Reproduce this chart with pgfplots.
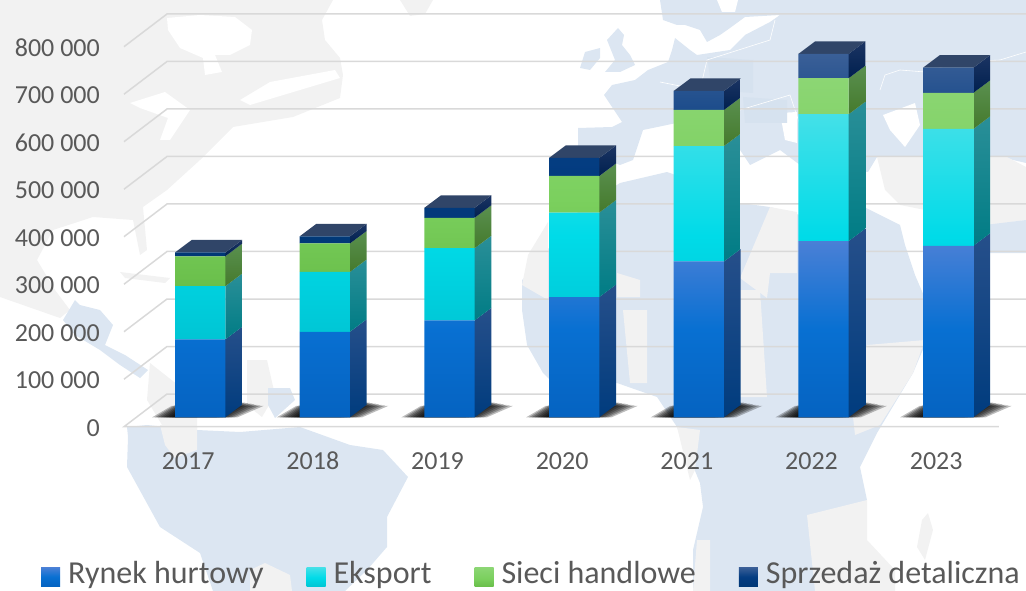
\documentclass[border=0pt]{standalone}
\usepackage{fontspec}
\setmainfont{Carlito}
\usepackage{pgfplots}
\usepackage{pgfplotstable}
\pgfplotsset{compat=1.18}
\definecolor{mapb}{HTML}{DCE6F2}
\definecolor{mapd}{HTML}{D6E2EF}
\definecolor{mapg}{HTML}{F2F2F2}
\definecolor{txt}{HTML}{595959}
\definecolor{gridc}{HTML}{D9D9D9}
\definecolor{topf}{HTML}{304568}
% front colours
\definecolor{b1}{HTML}{4A80D6}\definecolor{b2}{HTML}{0870D2}\definecolor{b3}{HTML}{0563C1}
\definecolor{c1}{HTML}{44E0E8}\definecolor{c2}{HTML}{00DBE8}\definecolor{c3}{HTML}{00C5D4}
\definecolor{g1}{HTML}{8CD674}\definecolor{g2}{HTML}{7BD05E}\definecolor{g3}{HTML}{6ABF4B}
\definecolor{n1}{HTML}{3A5F97}\definecolor{n2}{HTML}{043D82}\definecolor{n3}{HTML}{003876}
% side colours
\definecolor{bs1}{HTML}{264F8A}\definecolor{bs2}{HTML}{003C7E}
\definecolor{cs1}{HTML}{2A8F98}\definecolor{cs2}{HTML}{007C85}
\definecolor{gs1}{HTML}{5A9050}\definecolor{gs2}{HTML}{457A2C}
\definecolor{ns1}{HTML}{1B3463}\definecolor{ns2}{HTML}{00204F}
\pgfdeclareverticalshading{fb}{100bp}{color(0bp)=(b3);color(25bp)=(b3);color(50bp)=(b2);color(75bp)=(b1);color(100bp)=(b1)}
\pgfdeclareverticalshading{fc}{100bp}{color(0bp)=(c3);color(25bp)=(c3);color(48bp)=(c2);color(75bp)=(c1);color(100bp)=(c1)}
\pgfdeclareverticalshading{fg}{100bp}{color(0bp)=(g3);color(25bp)=(g3);color(46bp)=(g2);color(75bp)=(g1);color(100bp)=(g1)}
\pgfdeclareverticalshading{fn}{100bp}{color(0bp)=(n3);color(25bp)=(n3);color(50bp)=(n2);color(75bp)=(n1);color(100bp)=(n1)}
% values in thousands
\pgfplotstableread{
x a b c d
0 164 112 63 8
1 180 126 60 15
2 204 152 64 21
3 253 178 77 38
4 328 243 76 40
5 371 267 76 51
6 361 246 76 53
}\T
\newcommand\face[4]{%
  \pgfmathsetmacro\lotop{#1+26.316}\pgfmathsetmacro\hitop{#2+26.316}%
  \addplot[forget plot,draw=none,top color=#3,bottom color=#4] coordinates {(\xa,#1)(\xb,\lotop)(\xb,\hitop)(\xa,#2)} -- cycle;}
% soft floor shadow: nested translucent layers; #1 bar position, #2 inward step 0..1
\newcommand\softshadow[2]{%
  \pgfmathsetmacro\sa{#1-0.385+0.16*#2}\pgfmathsetmacro\sb{#1-0.229+0.16*#2}%
  \pgfmathsetmacro\sc{#1+0.509-0.17*#2}\pgfmathsetmacro\sd{#1+0.30-0.17*#2}%
  \pgfmathsetmacro\st{24+8.21*#2}%
  \addplot[forget plot,draw=none,fill=black,fill opacity=0.26]
    coordinates {(\sa,0)(\sb,\st)(\sc,\st)(\sd,0)} -- cycle;}
\newcommand\mypoly[2]{\fill[#1] plot coordinates {#2} -- cycle;}
\begin{document}
\begin{tikzpicture}
\path[use as bounding box] (0pt,0pt) rectangle (1026pt,-591pt);
\begin{scope}[x=1pt,y=-1pt]
\clip (0,0) rectangle (1026,591);
% ---------- map backdrop ----------
\mypoly{mapg}{(0,0)(333,0)(322,20)(325,40)(340,58)(343,75)(340,98)(293,117)(233,127)(200,160)(167,190)(143,207)(147,250)(140,255)(133,220)(93,217)(53,230)(37,260)(55,290)(70,310)(60,318)(0,297)}
\mypoly{mapg}{(400,0)(433,0)(425,14)(410,16)}
\mypoly{white}{(167,18)(200,15)(235,17)(252,30)(250,45)(230,55)(215,55)(222,72)(205,75)(203,58)(180,48)(168,30)}
\mypoly{white}{(240,100)(270,82)(335,70)(340,78)(300,90)(250,105)}
\mypoly{white}{(130,103)(165,92)(190,110)(170,140)(160,140)(168,118)(140,108)}
\mypoly{mapg}{(120,272)(170,278)(165,283)(125,278)}
\mypoly{mapb}{(63,320)(75,300)(80,305)(100,310)(113,325)(105,345)(125,355)(148,370)(140,378)(120,365)(100,350)(75,335)}
\mypoly{mapg}{(150,363)(197,400)(197,430)(165,430)(147,400)}
\mypoly{mapg}{(247,360)(267,360)(275,395)(262,417)(247,405)}
\mypoly{mapb}{(268,388)(290,388)(295,400)(275,418)(268,405)}
\mypoly{mapb}{(127,427)(147,425)(197,430)(240,432)(300,427)(350,445)(383,450)(408,477)(387,517)(387,547)(367,570)(345,591)(213,591)(200,553)(160,527)(127,467)(128,437)}
\mypoly{mapg}{(160,425)(197,427)(197,450)(175,458)(165,445)}
\mypoly{mapg}{(250,570)(265,563)(290,575)(292,591)(250,591)}
% Eurasia
\mypoly{mapb}{(660,0)(1026,0)(1026,163)(1000,157)(877,157)(868,172)(838,170)(800,165)(780,150)(750,165)(740,150)(735,135)(690,120)(667,125)(643,130)(633,160)(620,165)(596,155)(578,150)(578,128)(612,127)(622,122)(604,95)(612,85)(635,80)(648,70)(668,62)(672,50)(675,38)(690,50)(697,55)(730,50)(745,35)(770,22)(780,15)(745,17)(730,28)(720,35)(707,42)(700,30)(685,25)(677,25)(663,20)}
\mypoly{white}{(717,0)(738,0)(735,12)(722,12)}
\mypoly{white}{(883,115)(915,103)(920,125)(905,147)(890,130)}
\mypoly{white}{(780,113)(797,112)(797,143)(785,140)}
\mypoly{mapd}{(707,57)(753,60)(753,93)(712,90)}
\mypoly{mapd}{(743,97)(787,100)(787,123)(745,123)}
\mypoly{mapb}{(607,40)(618,28)(624,35)(622,45)(630,55)(635,65)(620,72)(605,72)(615,60)}
\mypoly{mapb}{(580,68)(585,52)(600,48)(600,58)(590,70)}
\draw[white,line width=.6pt] (880,90)--(885,75)--(900,70)--(925,72)--(960,62)--(1000,60)--(1026,52);
\draw[white,line width=.6pt] (660,82)--(700,90)--(707,60)--(770,40)--(775,20);
\draw[white,line width=.6pt] (740,110)--(790,95)--(800,125);
% Africa
\mypoly{mapb}{(620,183)(667,172)(690,180)(740,203)(770,207)(800,215)(860,205)(900,225)(905,245)(915,275)(930,310)(927,340)(913,373)(877,433)(860,467)(867,500)(840,520)(815,520)(815,591)(693,591)(693,550)(703,507)(700,483)(677,427)(657,397)(617,383)(575,390)(553,383)(543,373)(527,345)(522,310)(522,280)(540,262)(560,230)(585,205)}
\mypoly{mapg}{(548,222)(548,300)(522,285)(528,255)}
\mypoly{mapg}{(617,273)(640,280)(640,297)(617,297)}
\mypoly{mapg}{(770,207)(797,212)(797,273)(770,273)(767,298)(740,278)}
\mypoly{mapg}{(740,290)(760,290)(767,397)(740,397)(727,340)}
\mypoly{mapg}{(623,310)(647,310)(647,383)(630,383)}
\mypoly{mapg}{(867,345)(925,340)(913,373)(880,425)(855,435)(850,390)}
\mypoly{mapg}{(807,515)(867,500)(867,540)(895,570)(895,591)(815,591)}
\mypoly{mapg}{(697,540)(710,540)(710,591)(693,591)}
\mypoly{mapg}{(917,547)(922,520)(928,513)(933,530)(925,560)}
\mypoly{mapg}{(677,427)(700,430)(695,470)(690,480)}
% Arabia
\mypoly{mapg}{(877,157)(1007,157)(1026,167)(1026,220)(990,225)(950,235)(925,210)(900,205)(885,190)}
\mypoly{mapb}{(960,228)(1026,220)(1026,253)(975,253)}
\mypoly{white}{(905,207)(925,225)(945,245)(935,250)(915,232)}
\end{scope}
% ---------- grid, ticks, shadows, side and top faces ----------
\begin{axis}[
  at={(124pt,-426.7pt)},anchor=south west,
  scale only axis,width=902pt,height=426.7pt,
  xmin=-0.6108,xmax=6.6243,ymin=-19.79,ymax=878.526,
  axis line style={draw=none},tick style={draw=none},
  xtick={0,...,6},xticklabels={2017,2018,2019,2020,2021,2022,2023},
  ytick={-19.79,80.21,180.21,280.21,380.21,480.21,580.21,680.21,780.21},
  yticklabels={0,100 000,200 000,300 000,400 000,500 000,600 000,700 000,800 000},
  scaled y ticks=false,
  ticklabel style={font=\fontsize{26}{30}\selectfont,text=txt,inner sep=0pt},
  yticklabel style={anchor=east,xshift=-24pt,yshift=-1pt},
  xticklabel style={anchor=center,xshift=-12pt,yshift=-34pt},
  clip=false,
]
% gridlines: front edge, slope, back wall
\pgfplotsinvokeforeach{1,...,8}{
  \pgfmathsetmacro\fy{#1*100-19.79}
  \pgfmathsetmacro\by{#1*100+49.052}
  \addplot[forget plot,gridc,line width=1.5pt] coordinates {(-0.6108,\fy)(-0.2659,\by)(6.6243,\by)};
}
\addplot[forget plot,gridc,line width=1.5pt] coordinates {(6.4076,-19.79)(-0.6108,-19.79)(-0.2659,49.052)(6.6243,49.052)};
\pgfplotsinvokeforeach{0,...,6}{
  \softshadow{#1}{0}\softshadow{#1}{0.143}\softshadow{#1}{0.286}\softshadow{#1}{0.429}
  \softshadow{#1}{0.571}\softshadow{#1}{0.714}\softshadow{#1}{0.857}\softshadow{#1}{1}
}
\pgfplotsinvokeforeach{0,...,6}{
  \pgfplotstablegetelem{#1}{a}\of\T\pgfmathsetmacro\va{\pgfplotsretval}
  \pgfplotstablegetelem{#1}{b}\of\T\pgfmathsetmacro\vb{\va+\pgfplotsretval}
  \pgfplotstablegetelem{#1}{c}\of\T\pgfmathsetmacro\vc{\vb+\pgfplotsretval}
  \pgfplotstablegetelem{#1}{d}\of\T\pgfmathsetmacro\vd{\vc+\pgfplotsretval}
  \pgfmathsetmacro\xa{#1+0.2017}
  \pgfmathsetmacro\xb{#1+0.3357}
  \pgfmathsetmacro\xl{#1-0.2017}
  \pgfmathsetmacro\xm{#1-0.0677}
  \pgfmathsetmacro\vt{\vd+26.316}
  \face{0}{\va}{bs1}{bs2}
  \face{\va}{\vb}{cs1}{cs2}
  \face{\vb}{\vc}{gs1}{gs2}
  \face{\vc}{\vd}{ns1}{ns2}
  \addplot[forget plot,draw=none,fill=topf] coordinates {(\xl,\vd)(\xm,\vt)(\xb,\vt)(\xa,\vd)} -- cycle;
}
\end{axis}
% ---------- front faces and legend ----------
\begin{axis}[
  at={(124pt,-426.7pt)},anchor=south west,
  scale only axis,width=902pt,height=426.7pt,
  xmin=-0.6108,xmax=6.6243,ymin=-19.79,ymax=878.526,
  hide axis,clip=false,
  ybar stacked,bar width=50.3pt,
  legend columns=4,
  legend cell align=left,
  legend style={draw=none,fill=none,inner sep=0pt,
    at={(-0.0920,-0.3426)},anchor=west,
    font=\fontsize{32}{32}\selectfont,text=txt,
    /tikz/every even column/.append style={column sep=41pt},
    /tikz/every odd column/.append style={column sep=6pt}},
  swatch/.style={legend image code/.code={\path[##1] (0pt,-13.5pt) rectangle (19pt,5.5pt);}},
]
\addplot[draw=none,shade,shading=fb,swatch] table[x=x,y=a]{\T};
\addlegendentry{Rynek hurtowy}
\addplot[draw=none,shade,shading=fc,swatch] table[x=x,y=b]{\T};
\addlegendentry{Eksport}
\addplot[draw=none,shade,shading=fg,swatch] table[x=x,y=c]{\T};
\addlegendentry{Sieci handlowe}
\addplot[draw=none,shade,shading=fn,swatch] table[x=x,y=d]{\T};
\addlegendentry{Sprzedaż detaliczna}
\end{axis}
\end{tikzpicture}
\end{document}
